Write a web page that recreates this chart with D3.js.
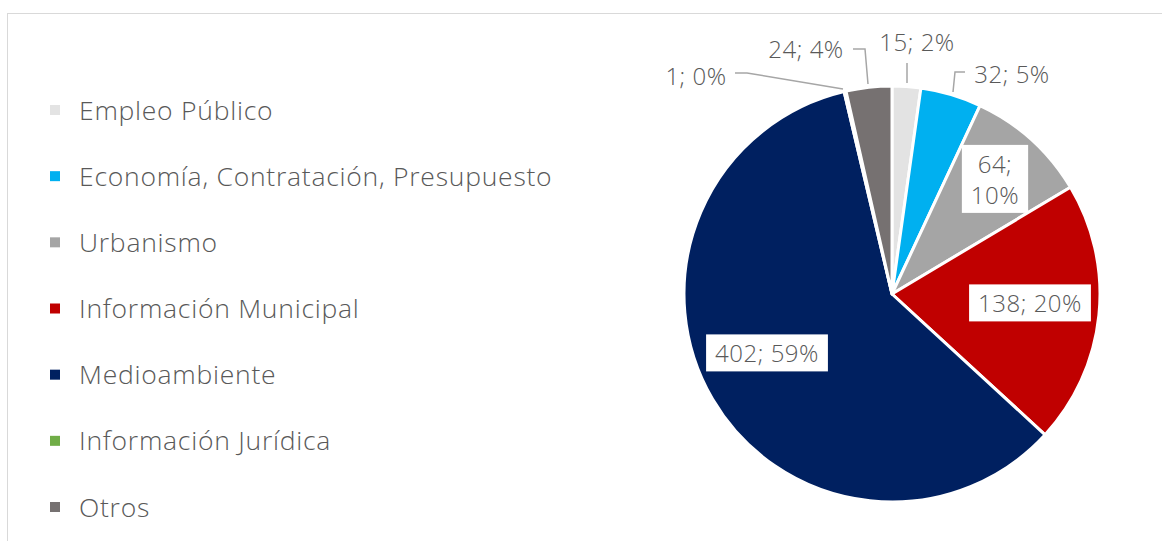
<!DOCTYPE html>
<html>
<head>
<meta charset="utf-8">
<script src="https://cdn.jsdelivr.net/npm/d3@7"></script>
<style>
  body { margin: 0; background: #fff; }
  text { font-family: "Open Sans", "Liberation Sans", sans-serif; font-weight: 300; fill: #595959; }
</style>
</head>
<body>
<svg id="chart" width="1162" height="541"></svg>
<script>
// Data
const categories = ["Empleo Público", "Economía, Contratación, Presupuesto", "Urbanismo",
    "Información Municipal", "Medioambiente", "Información Jurídica", "Otros"];
const values = [15, 32, 64, 138, 402, 1, 24];
const percentLabels = ["2%", "5%", "10%", "20%", "59%", "0%", "4%"];
const colors = ["#e3e3e3", "#00b0f0", "#a5a5a5", "#c00000", "#002060", "#70ad47", "#767171"];

const svg = d3.select("#chart");
const cx = 892, cy = 294, R = 208;

// frame
svg.append("rect")
    .attr("x", 7.5).attr("y", 13.5)
    .attr("width", 1170).attr("height", 560)
    .attr("fill", "none").attr("stroke", "#d9d9d9").attr("stroke-width", 1);

const data = categories.map((c, i) => ({ name: c, value: values[i], pct: percentLabels[i], color: colors[i] }));

const pie = d3.pie().value(d => d.value).sort(null);
const arcs = pie(data);
const arc = d3.arc().innerRadius(0).outerRadius(R);

const g = svg.append("g").attr("transform", `translate(${cx},${cy})`);

g.selectAll("path")
    .data(arcs)
    .enter().append("path")
    .attr("d", arc)
    .attr("fill", d => d.data.color)
    .attr("stroke", "#fff")
    .attr("stroke-width", 3)
    .attr("stroke-linejoin", "round");

// label placement (offsets from pie centre), outside labels get leader lines
const labelPos = [
    { x: 25, y: -251, out: true, line: [[15, -231], [15, -211]] },
    { x: 120, y: -219, out: true, line: [[73, -222], [63, -222], [61, -202]] },
    { x: 103, y: -114, out: false, lines2: true },
    { x: 138, y: 10, out: false },
    { x: -125, y: 60, out: false },
    { x: -196, y: -217, out: true, line: [[-157, -221], [-145, -221], [-49, -205]] },
    { x: -86, y: -244, out: true, line: [[-39, -245], [-27, -245], [-24, -210]] }
];

const lineGen = d3.line();

arcs.forEach((a, i) => {
    const p = labelPos[i];
    const lines = p.lines2 ? [a.data.value + ";", a.data.pct] : [a.data.value + "; " + a.data.pct];
    const lg = g.append("g").attr("transform", `translate(${p.x},${p.y})`);
    const t = lg.append("text")
        .attr("text-anchor", "middle")
        .attr("font-size", 24)
        .attr("letter-spacing", 0.5);
    lines.forEach((s, k) => {
        t.append("tspan")
            .attr("x", 0)
            .attr("y", (k - (lines.length - 1) / 2) * 31)
            .attr("dy", "0.35em")
            .text(s);
    });
    if (!p.out) {
        const bb = t.node().getBBox();
        lg.insert("rect", "text")
            .attr("x", bb.x - 9).attr("y", bb.y - 2)
            .attr("width", bb.width + 18).attr("height", bb.height + 4)
            .attr("fill", "#fff");
    } else {
        g.append("path")
            .attr("d", lineGen(p.line))
            .attr("fill", "none")
            .attr("stroke", "#a6a6a6")
            .attr("stroke-width", 1.5);
    }
});

// legend
const legendY = d3.scalePoint().domain(categories).range([110, 507]);
const legend = svg.append("g");
const items = legend.selectAll("g")
    .data(data)
    .enter().append("g")
    .attr("transform", d => `translate(50,${legendY(d.name)})`);
items.append("rect")
    .attr("x", 0).attr("y", -5)
    .attr("width", 10).attr("height", 10)
    .attr("fill", d => d.color);
items.append("text")
    .attr("x", 29).attr("dy", "0.36em")
    .attr("font-size", 26.5)
    .attr("letter-spacing", 0.75)
    .text(d => d.name);
</script>
</body>
</html>
